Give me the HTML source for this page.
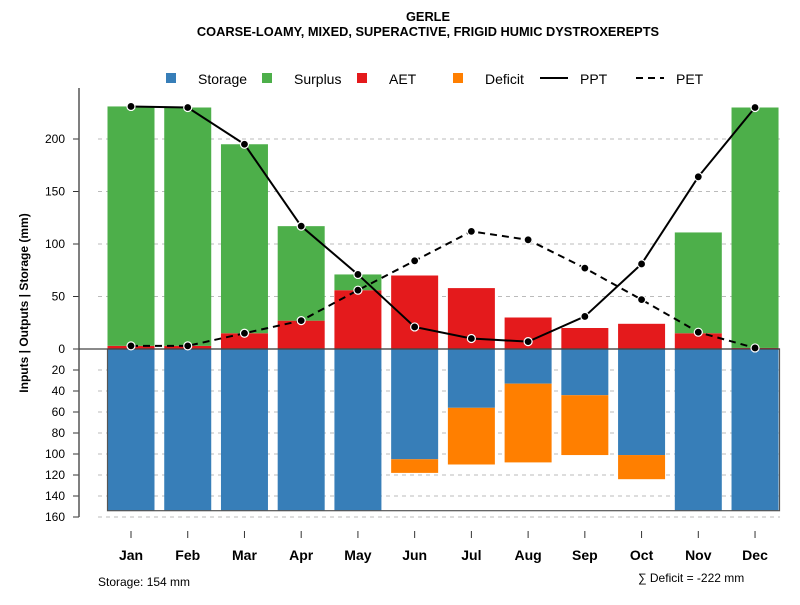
<!DOCTYPE html>
<html><head><meta charset="utf-8"><style>
body{margin:0;background:#fff;font-family:"Liberation Sans",sans-serif}
</style></head><body>
<svg id="c" width="800" height="600" xmlns="http://www.w3.org/2000/svg" font-family="Liberation Sans, sans-serif">
<text x="428" y="21" text-anchor="middle" font-size="12.8" font-weight="bold">GERLE</text>
<text x="428" y="36" text-anchor="middle" font-size="12.8" font-weight="bold">COARSE-LOAMY, MIXED, SUPERACTIVE, FRIGID HUMIC DYSTROXEREPTS</text>
<g id="legend" font-size="14">
<rect x="166" y="73" width="10" height="10" fill="#377eb8"/><text x="198" y="84">Storage</text>
<rect x="262" y="73" width="10" height="10" fill="#4daf4a"/><text x="294" y="84">Surplus</text>
<rect x="357" y="73" width="10" height="10" fill="#e41a1c"/><text x="389" y="84">AET</text>
<rect x="453" y="73" width="10" height="10" fill="#ff7f00"/><text x="485" y="84">Deficit</text>
<line x1="540" y1="78" x2="568" y2="78" stroke="#000" stroke-width="2"/><text x="580" y="84">PPT</text>
<line x1="636" y1="78" x2="664" y2="78" stroke="#000" stroke-width="2" stroke-dasharray="7,5"/><text x="676" y="84">PET</text>
</g>
<text transform="translate(28,303) rotate(-90)" text-anchor="middle" font-size="12" font-weight="bold">Inputs | Outputs | Storage    (mm)</text>
<text x="98" y="586" font-size="12">Storage: 154 mm</text>
<text x="638" y="582" font-size="12">∑ Deficit = -222 mm</text>
<g id="plot"></g>
</svg>
<script>
const months=["Jan","Feb","Mar","Apr","May","Jun","Jul","Aug","Sep","Oct","Nov","Dec"];
const ppt=[231,230,195,117,71,21,10,7,31,81,164,230];
const pet=[3,3,15,27,56,84,112,104,77,47,16,1];
const aet=[3,3,15,27,56,70,58,30,20,24,15,1];
const surplus=[228,227,180,90,15,0,0,0,0,0,96,229];
const storage=[154,154,154,154,154,105,56,33,44,101,154,154];
const deficit=[0,0,0,0,0,13,54,75,57,23,0,0];
const posTicks=[0,50,100,150,200];
const negTicks=[20,40,60,80,100,120,140,160];
const NS="http://www.w3.org/2000/svg";
const g=document.getElementById('plot');
const y=v=>349-1.05*v;
const x=i=>131+i*56.73;
const bw=47;
function mk(t,a){const e=document.createElementNS(NS,t);for(const k in a)e.setAttribute(k,a[k]);g.appendChild(e);return e;}
posTicks.concat(negTicks.map(v=>-v)).forEach(v=>{
 if(v!==0){const l=mk('line',{x1:98,x2:780,y1:y(v),y2:y(v),stroke:'#bbb','stroke-dasharray':'4,4'});
 
 }
 const t=mk('line',{x1:73,x2:79,y1:y(v),y2:y(v),stroke:'#333'});
 
 
 const tx=mk('text',{x:65,y:y(v)+4,'text-anchor':'end','font-size':12});tx.textContent=Math.abs(v);
 
 
});
const ax=mk('line',{x1:79,x2:79,y1:88,y2:y(-160),stroke:'#555','stroke-width':1.5});


months.forEach((m,i)=>{
 const bx=x(i)-bw/2;
 let r=mk('rect',{x:bx,y:y(0),width:bw,height:y(-storage[i])-y(0),fill:'#377eb8'});
 
 
 if(deficit[i]>0){r=mk('rect',{x:bx,y:y(-storage[i]),width:bw,height:y(-storage[i]-deficit[i])-y(-storage[i]),fill:'#ff7f00'});
 
 }
 r=mk('rect',{x:bx,y:y(aet[i]),width:bw,height:y(0)-y(aet[i]),fill:'#e41a1c'});
 
 
 if(surplus[i]>0){r=mk('rect',{x:bx,y:y(aet[i]+surplus[i]),width:bw,height:y(aet[i])-y(aet[i]+surplus[i]),fill:'#4daf4a'});
 
 }
 const t=mk('line',{x1:x(i),x2:x(i),y1:531,y2:538,stroke:'#333'});
 
 
 const tx=mk('text',{x:x(i),y:560,'text-anchor':'middle','font-size':14,'font-weight':'bold'});tx.textContent=m;
 
 
});
const box=mk('rect',{x:107.5,y:y(0),width:672,height:y(-154)-y(0),fill:'none',stroke:'#555','stroke-width':1.2});


const zl=mk('line',{x1:79,x2:780,y1:y(0),y2:y(0),stroke:'#444','stroke-width':1.2});


function line(arr,name,dash){
 const p=mk('polyline',{points:arr.map((v,i)=>x(i)+','+y(v)).join(' '),fill:'none',stroke:'#000','stroke-width':2,'stroke-dasharray':dash});
 
 
 arr.forEach((v,i)=>{const c=mk('circle',{cx:x(i),cy:y(v),r:4,fill:'#000',stroke:'#fff','stroke-width':1.2});
 
 });
}
line(pet,'pet','7,5');
line(ppt,'ppt','none');
</script>
</body></html>
